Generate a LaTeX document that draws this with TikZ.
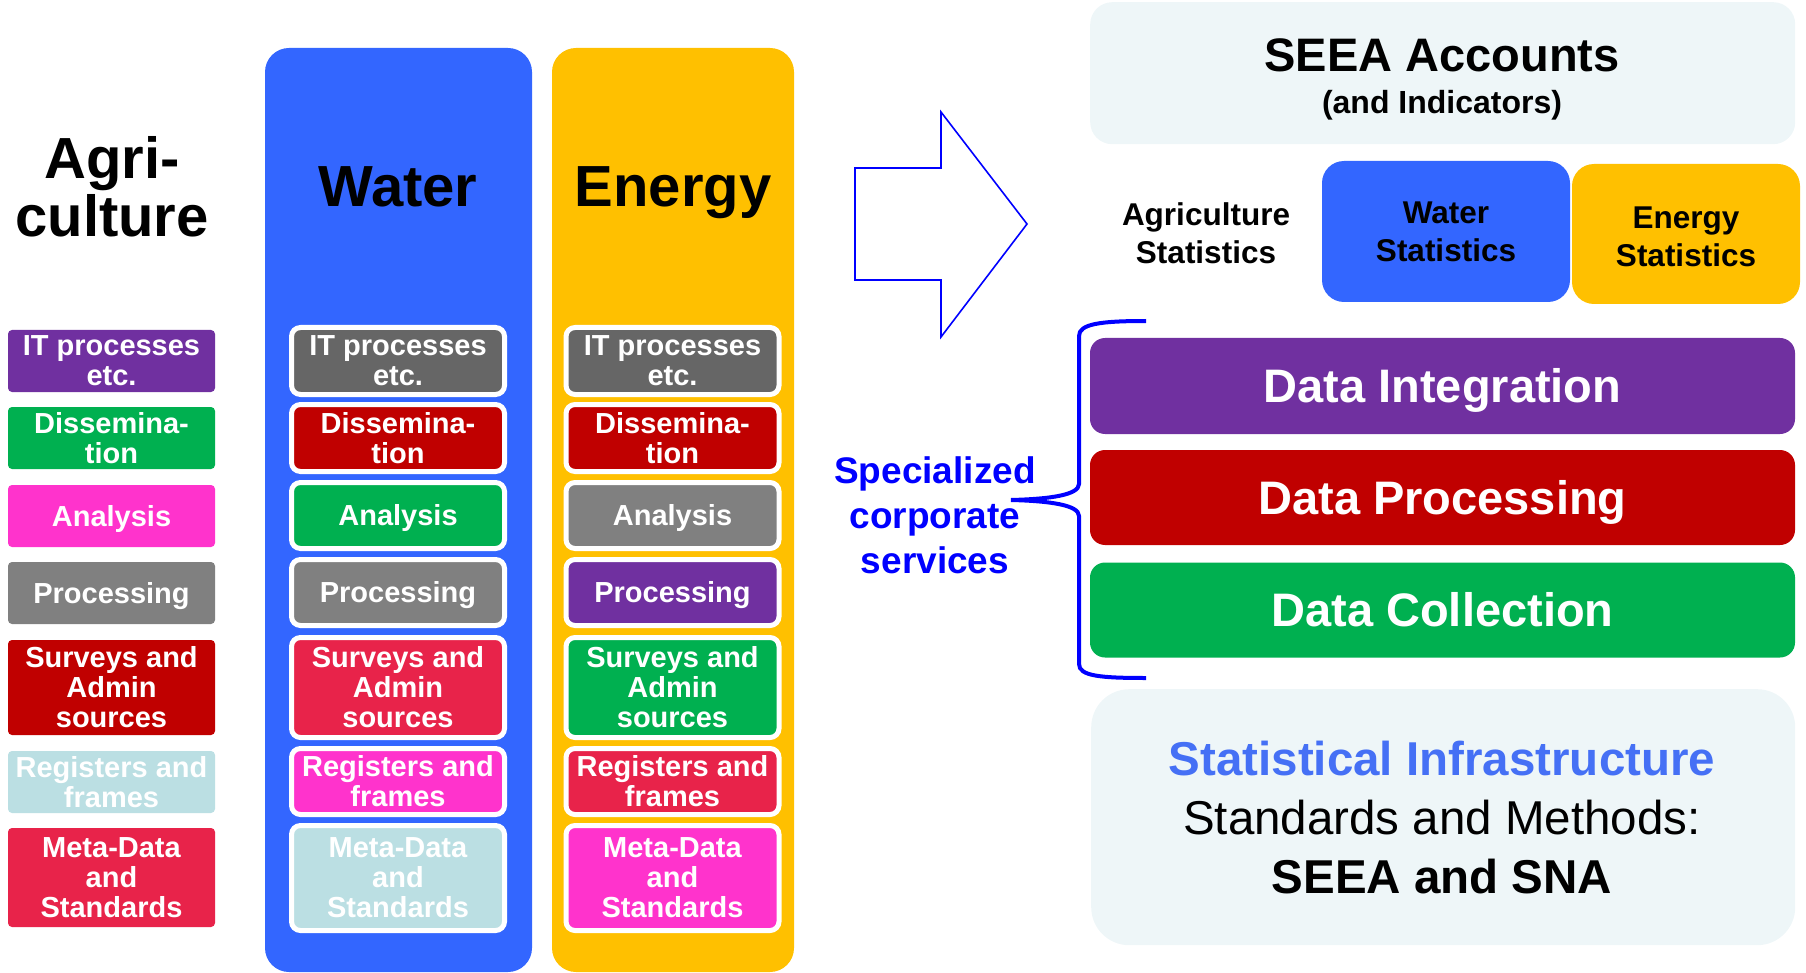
\documentclass[tikz,border=0pt]{standalone}
\usepackage{fontspec}
\setmainfont{Liberation Sans}
\definecolor{cPurple}{HTML}{7030A0}
\definecolor{cGreen}{HTML}{00B050}
\definecolor{cMagenta}{HTML}{FF33CC}
\definecolor{cGray}{HTML}{808080}
\definecolor{cDkGray}{HTML}{666666}
\definecolor{cDkRed}{HTML}{C00000}
\definecolor{cCrimson}{HTML}{E8234A}
\definecolor{cLtBlue}{HTML}{BBDFE3}
\definecolor{cBlue}{HTML}{3366FF}
\definecolor{cYellow}{HTML}{FFC000}
\definecolor{cBg}{HTML}{EEF6F8}
\definecolor{cStatBlue}{HTML}{4570F5}
\definecolor{cSpec}{HTML}{0000FF}
\begin{document}
\begin{tikzpicture}[x=1pt,y=-1pt,
  cell/.style={inner sep=0pt, text=white, align=center,
    font=\fontsize{29}{30}\selectfont\bfseries},
  oneline/.style={text height=20.8pt, text depth=0pt},
  lcell/.style={cell, rounded corners=4pt, minimum width=207pt},
  fcell/.style={cell, draw=white, line width=5pt, rounded corners=9pt, minimum width=213pt},
  column/.style={rounded corners=24pt},
  coltitle/.style={anchor=base, inner sep=0pt, font=\fontsize{58}{58}\selectfont\bfseries},
  databox/.style={inner sep=0pt, rounded corners=15pt, minimum width=705pt, text=white,
    text height=33.6pt, text depth=0pt,
    font=\fontsize{47}{47}\selectfont\bfseries},
  statbox/.style={inner sep=0pt, rounded corners=22pt, align=center,
    font=\fontsize{31.5}{38}\selectfont\bfseries},
  lightbox/.style={fill=cBg, inner sep=0pt},
]
\useasboundingbox (0,0) rectangle (1806,973);

% ---- Agriculture column ----
\node[align=center, inner sep=0pt, font=\fontsize{58}{58}\selectfont\bfseries] (agrititle) at (112,186.5) {Agri-\\culture};
\node[lcell, fill=cPurple,  minimum height=62pt] (a1) at (111.5,361)   {IT processes\\etc.};
\node[lcell, fill=cGreen,   minimum height=62pt] (a2) at (111.5,438)   {Dissemina-\\tion};
\node[lcell, oneline, fill=cMagenta, minimum height=62pt] (a3) at (111.5,516)   {Analysis};
\node[lcell, oneline, fill=cGray,    minimum height=62pt] (a4) at (111.5,593)   {Processing};
\node[lcell, fill=cDkRed,   minimum height=95pt] (a5) at (111.5,687.5) {Surveys and\\Admin\\sources};
\node[lcell, fill=cLtBlue,  minimum height=62pt] (a6) at (111.5,782)   {Registers and\\frames};
\node[lcell, fill=cCrimson, minimum height=99pt] (a7) at (111.5,877.5) {Meta-Data\\and\\Standards};

% ---- Water column ----
\fill[cBlue, column] (265,48) rectangle (532,972);
\node[coltitle] (watertitle) at (398,207) {Water};
\node[fcell, fill=cDkGray,  minimum height=67pt]  (w1) at (398,361)   {IT processes\\etc.};
\node[fcell, fill=cDkRed,   minimum height=67pt]  (w2) at (398,438)   {Dissemina-\\tion};
\node[fcell, oneline, fill=cGreen,   minimum height=66pt]  (w3) at (398,515.5) {Analysis};
\node[fcell, oneline, fill=cGray,    minimum height=66pt]  (w4) at (398,592.5) {Processing};
\node[fcell, fill=cCrimson, minimum height=100pt] (w5) at (398,687.5) {Surveys and\\Admin\\sources};
\node[fcell, fill=cMagenta, minimum height=66pt]  (w6) at (398,781.5) {Registers and\\frames};
\node[fcell, fill=cLtBlue,  minimum height=105pt] (w7) at (398,878)   {Meta-Data\\and\\Standards};

% ---- Energy column ----
\fill[cYellow, column] (552,48) rectangle (794,972);
\node[coltitle] (energytitle) at (673,207) {Energy};
\node[fcell, fill=cDkGray,  minimum height=67pt]  (e1) at (672.5,361)   {IT processes\\etc.};
\node[fcell, fill=cDkRed,   minimum height=67pt]  (e2) at (672.5,438)   {Dissemina-\\tion};
\node[fcell, oneline, fill=cGray,    minimum height=66pt]  (e3) at (672.5,515.5) {Analysis};
\node[fcell, oneline, fill=cPurple,  minimum height=66pt]  (e4) at (672.5,592.5) {Processing};
\node[fcell, fill=cGreen,   minimum height=100pt] (e5) at (672.5,687.5) {Surveys and\\Admin\\sources};
\node[fcell, fill=cCrimson, minimum height=66pt]  (e6) at (672.5,781.5) {Registers and\\frames};
\node[fcell, fill=cMagenta, minimum height=105pt] (e7) at (672.5,878)   {Meta-Data\\and\\Standards};

% ---- Big arrow ----
\draw[cSpec, line width=1.6pt, line join=miter]
  (855,168) -- (941,168) -- (941,112) -- (1027,224) -- (941,337) -- (941,280) -- (855,280) -- cycle;

% ---- SEEA Accounts ----
\node[lightbox, rounded corners=22pt, minimum width=705pt, minimum height=142pt, anchor=north west] (seea) at (1090,2) {};
\node[anchor=base, inner sep=0pt, font=\fontsize{47}{47}\selectfont\bfseries] (seeat) at (1442,72) {SEEA Accounts};
\node[anchor=base, inner sep=0pt, font=\fontsize{32}{32}\selectfont\bfseries] (seeai) at (1442,114) {(and Indicators)};

% ---- Statistics row ----
\node[statbox] (agristat) at (1206,233) {Agriculture\\Statistics};
\node[statbox, fill=cBlue, minimum width=248pt, minimum height=141pt] (waterstat) at (1446,231.5) {Water\\Statistics};
\node[statbox, fill=cYellow, minimum width=228pt, minimum height=140pt] (energystat) at (1686,234) {};
\node[statbox, inner sep=0pt] (energystatt) at (1686,236.5) {Energy\\Statistics};

% ---- Data boxes ----
\node[databox, fill=cPurple, minimum height=96pt] (dint)  at (1442.5,386)   {Data Integration};
\node[databox, fill=cDkRed,  minimum height=95pt] (dproc) at (1442.5,497.5) {Data Processing};
\node[databox, fill=cGreen,  minimum height=95pt] (dcoll) at (1442.5,610) {Data Collection};

% ---- Brace ----
\draw[cSpec, line width=4pt]
  (1146,321) .. controls (1100,321) and (1079,324) .. (1079,336) -- (1079,484)
  .. controls (1079,495) and (1050,499) .. (1011,500)
  .. controls (1050,501) and (1079,505) .. (1079,516) -- (1079,664)
  .. controls (1079,676) and (1100,678) .. (1146,678);

% ---- Specialized corporate services ----
\node[align=center, inner sep=0pt, text=cSpec, font=\fontsize{37}{45}\selectfont\bfseries] (spec) at (935,515) {Specialized\\corporate\\services};

% ---- Statistical Infrastructure ----
\node[lightbox, rounded corners=38pt, minimum width=704pt, minimum height=256pt, anchor=north west] (infra) at (1091,689) {};
\node[align=center, inner sep=0pt, font=\fontsize{47.5}{59}\selectfont] (infrat) at (1442,818)
  {\textcolor{cStatBlue}{\bfseries Statistical Infrastructure}\\Standards and Methods:\\\bfseries SEEA and SNA};
\end{tikzpicture}
\end{document}
